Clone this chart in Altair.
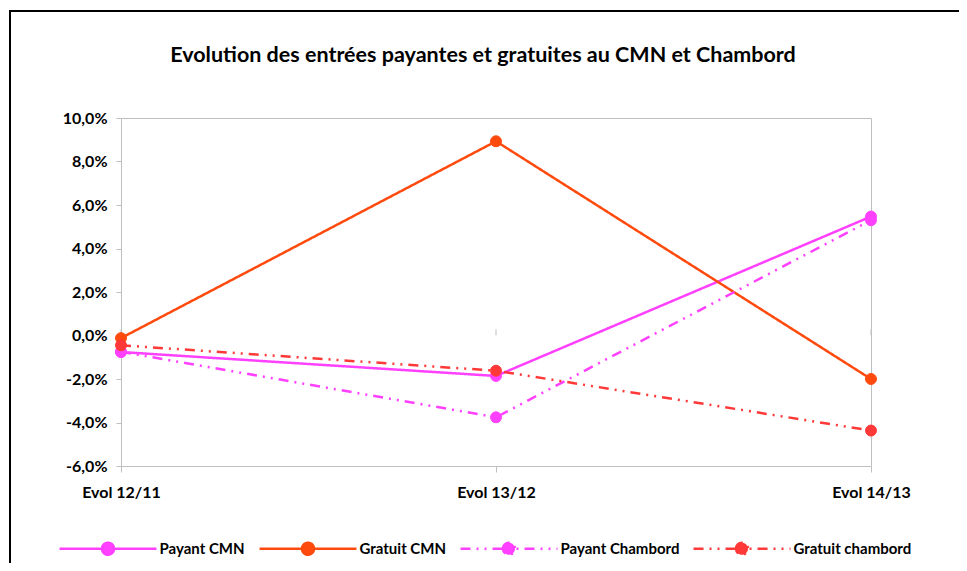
import altair as alt
import pandas as pd

categories = ["Evol 12/11", "Evol 13/12", "Evol 14/13"]
series_names = ["Payant CMN", "Gratuit CMN", "Payant Chambord", "Gratuit chambord"]
payant_cmn = [-0.0076, -0.0186, 0.0547]
gratuit_cmn = [-0.0012, 0.0893, -0.0200]
payant_chambord = [-0.0075, -0.0376, 0.0530]
gratuit_chambord = [-0.0045, -0.0162, -0.0437]
series_colors = ["#ff40ff", "#ff4a0e", "#ff40ff", "#ff3838"]
y_ticks = [-0.06, -0.04, -0.02, 0.0, 0.02, 0.04, 0.06, 0.08, 0.10]
title_text = "Evolution des entrées payantes et gratuites au CMN et Chambord"

rows = []
for name, vals in zip(series_names, [payant_cmn, gratuit_cmn, payant_chambord, gratuit_chambord]):
    for c, v in zip(categories, vals):
        rows.append({"cat": c, "serie": name, "val": v})
df = pd.DataFrame(rows)

FONT = "Lato"
DD = [10, 6, 2, 6, 2, 6]
dashes = [[1, 0], [1, 0], DD, DD]

sym_path = ("M-8.08,0L8.08,0M-1,0A1,1 0 1,1 1,0A1,1 0 1,1 -1,0Z")


def make_legend():
    return alt.Legend(title=None, orient="none", direction="horizontal",
                      legendX=-20.5, legendY=423, padding=0,
                      symbolType=sym_path, symbolSize=144,
                      symbolStrokeWidth=2.5, labelFontSize=15,
                      labelFontWeight="bold", labelFont=FONT,
                      labelColor="#000", labelOffset=44,
                      columnPadding=9, symbolOpacity=1)


color_scale = alt.Scale(domain=series_names, range=series_colors)

x_enc = alt.X("cat:N", sort=categories, scale=alt.Scale(type="point", padding=0),
              axis=alt.Axis(title=None, domain=False, grid=False, tickSize=6,
                            tickColor="#bfbfbf", labelPadding=20, labelFontSize=16,
                            labelFontWeight="bold", labelFont=FONT, labelColor="#000",
                            labelAngle=0, labelAlign="center", labelFlush=False,
                            labelOverlap=False))
y_enc = alt.Y("val:Q", scale=alt.Scale(domain=[-0.06, 0.10], nice=False, zero=False),
              axis=alt.Axis(title=None, values=y_ticks, gridColor="#bfbfbf",
                            domainColor="#bfbfbf", tickColor="#bfbfbf", tickSize=5,
                            labelPadding=9, labelFontSize=16, labelFontWeight="bold",
                            labelFont=FONT, labelColor="#000",
                            labelExpr="replace(replace(format(datum.value, '.1%'), '.', ','), '\u2212', '-')"))

lines = alt.Chart(df).mark_line(strokeWidth=2.5).encode(
    x=x_enc, y=y_enc,
    stroke=alt.Stroke("serie:N", sort=series_names, scale=color_scale, legend=make_legend()),
    strokeDash=alt.StrokeDash("serie:N", sort=series_names,
                              scale=alt.Scale(domain=series_names, range=dashes),
                              legend=make_legend()),
    order=alt.Order("cat:N"))

points = alt.Chart(df).mark_point(filled=True, size=120, opacity=1, strokeWidth=1,
                                  shape="circle").encode(
    x="cat:N", y="val:Q",
    fill=alt.Fill("serie:N", sort=series_names, scale=color_scale, legend=make_legend()),
    stroke=alt.Stroke("serie:N", sort=series_names, scale=color_scale, legend=make_legend()),
    order=alt.Order("ord:Q")).transform_calculate(
    ord="indexof(['Payant CMN','Gratuit CMN','Payant Chambord','Gratuit chambord'], datum.serie)")

zero_ticks = alt.Chart(pd.DataFrame({"cat": categories})).mark_rule(
    color="#bfbfbf", strokeWidth=1).encode(
    x="cat:N", y=alt.datum(0.0), y2=alt.datum(0.0028))

frame_left = alt.Chart(pd.DataFrame({"a": [0]})).mark_rule(color="#000", strokeWidth=2).encode(
    x=alt.value(-111), y=alt.value(-107), y2=alt.value(520))
frame_top = alt.Chart(pd.DataFrame({"a": [0]})).mark_rule(color="#000", strokeWidth=2).encode(
    x=alt.value(-112), x2=alt.value(900), y=alt.value(-107))

title = alt.Chart(pd.DataFrame({"t": [title_text]})).mark_text(
    fontSize=21.5, fontWeight="bold", font=FONT, color="#000", align="center",
    baseline="middle").encode(text="t:N", x=alt.value(362), y=alt.value(-62))

chart = alt.layer(zero_ticks, lines, points, frame_left, frame_top, title).properties(
    width=750, height=348,
    autosize=alt.AutoSizeParams(type="none"),
    padding={"left": 113, "top": 110, "right": 88, "bottom": 97},
).configure_view(stroke="#bfbfbf", strokeWidth=1)

chart.save("out.html", embed_options={"renderer": "svg", "actions": False})
